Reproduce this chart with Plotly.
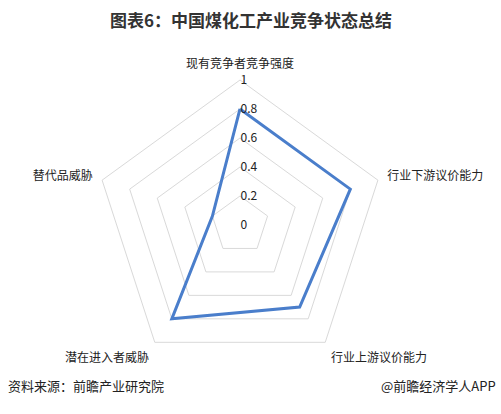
import plotly.graph_objects as go

categories = ["现有竞争者竞争强度", "行业下游议价能力", "行业上游议价能力", "潜在进入者威胁", "替代品威胁"]
values = [0.8, 0.8, 0.7, 0.8, 0.2]
radial_ticks = [0, 0.2, 0.4, 0.6, 0.8, 1]

font = "Noto Sans CJK SC"

fig = go.Figure()
fig.add_trace(go.Scatterpolar(
    r=values + values[:1],
    theta=categories + categories[:1],
    mode="lines",
    line=dict(color="#4a7ecb", width=3),
    showlegend=False,
    hoverinfo="skip",
))

fig.update_layout(
    width=501,
    height=414,
    margin=dict(l=0, r=0, t=0, b=0),
    paper_bgcolor="white",
    plot_bgcolor="white",
    font=dict(family=font, color="#222222", size=12),
    polar=dict(
        domain=dict(x=[0.1896, 0.7685], y=[0.1063, 0.8068]),
        bgcolor="white",
        gridshape="linear",
        angularaxis=dict(
            rotation=90,
            direction="clockwise",
            showgrid=False,
            showline=True,
            linecolor="#d9d9d9",
            linewidth=1,
            ticks="outside",
            ticklen=7,
            tickcolor="rgba(0,0,0,0)",
            tickfont=dict(size=12, color="#222222"),
        ),
        radialaxis=dict(
            range=[0, 1],
            tickvals=radial_ticks,
            ticktext=[f"{v:g}" for v in radial_ticks],
            angle=90,
            tickangle=90,
            side="clockwise",
            showline=False,
            ticks="",
            showgrid=True,
            gridcolor="#d9d9d9",
            gridwidth=1,
            tickfont=dict(size=12, color="#222222"),
        ),
    ),
    annotations=[
        dict(text="<b>图表6：中国煤化工产业竞争状态总结</b>", x=0.5, y=1 - 20 / 414,
             xref="paper", yref="paper", yanchor="middle", showarrow=False,
             font=dict(size=17, color="#333333", family=font)),
        dict(text="资料来源：前瞻产业研究院", x=6 / 501, y=1 - 385 / 414,
             xref="paper", yref="paper", xanchor="left", yanchor="middle", showarrow=False,
             font=dict(size=13, color="#222222", family=font)),
        dict(text="@前瞻经济学人APP", x=1 - 3 / 501, y=1 - 385 / 414,
             xref="paper", yref="paper", xanchor="right", yanchor="middle", showarrow=False,
             font=dict(size=13, color="#222222", family=font)),
    ],
)

fig.write_html("out.html", config={"displayModeBar": False},
               post_script="document.body.style.margin='0';")
